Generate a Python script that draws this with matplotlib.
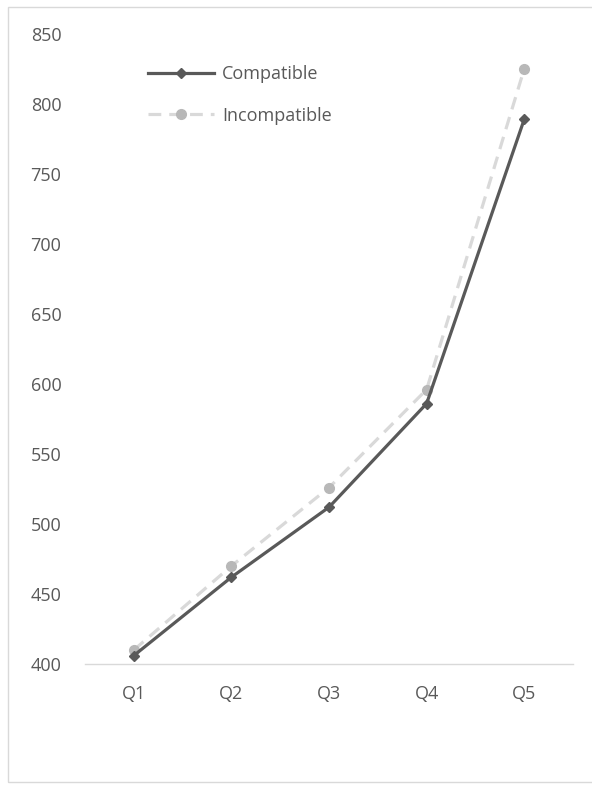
import matplotlib
matplotlib.use("Agg")
import matplotlib.pyplot as plt
from matplotlib.patches import Rectangle

# Data
quintiles = ["Q1", "Q2", "Q3", "Q4", "Q5"]
compatible = [406, 462, 512, 586, 789]
incompatible = [410, 470, 526, 596, 825]
y_ticks = [400, 450, 500, 550, 600, 650, 700, 750, 800, 850]

W, H = 592, 787
FS = 13
plt.rcParams["font.family"] = ["Open Sans", "DejaVu Sans"]

fig = plt.figure(figsize=(W / 100, H / 100), dpi=100)
ax = fig.add_axes([85 / W, 1 - 664 / H, (573 - 85) / W, (664 - 34) / H])

# Chart border (light gray frame)
fig.patches.append(Rectangle((8 / W, 1 - 782 / H), (W + 10 - 8) / W, (782 - 7) / H,
                             transform=fig.transFigure, fill=False,
                             edgecolor="#d9d9d9", linewidth=1.0))

x = list(range(len(quintiles)))
ax.plot(x, compatible, color="#595959", linewidth=2.3, marker="D",
        markersize=5, label="Compatible", zorder=3)
ax.plot(x, incompatible, color="#d9d9d9", linewidth=2.3, linestyle=(0, (4, 2.5)),
        marker="o", markersize=7, markerfacecolor="#b8b8b8",
        markeredgecolor="#b8b8b8", label="Incompatible", zorder=2)

ax.set_xlim(-0.5, 4.5)
ax.set_ylim(400, 850)
ax.set_xticks(x)
ax.set_xticklabels(quintiles)
ax.set_yticks(y_ticks)

for side in ["top", "right", "left"]:
    ax.spines[side].set_visible(False)
ax.spines["bottom"].set_color("#d9d9d9")
ax.spines["bottom"].set_linewidth(1.0)

ax.tick_params(axis="both", length=0, labelsize=FS, labelcolor="#595959")
ax.tick_params(axis="y", pad=17)
ax.tick_params(axis="x", pad=15)

leg = ax.legend(loc="upper left", bbox_to_anchor=(0.1135, 0.962), frameon=False,
                fontsize=FS, handlelength=3.67, labelspacing=1.3,
                handletextpad=0.45, borderaxespad=0)
for t in leg.get_texts():
    t.set_color("#595959")

fig.savefig("out.png", dpi=100, facecolor="white")
